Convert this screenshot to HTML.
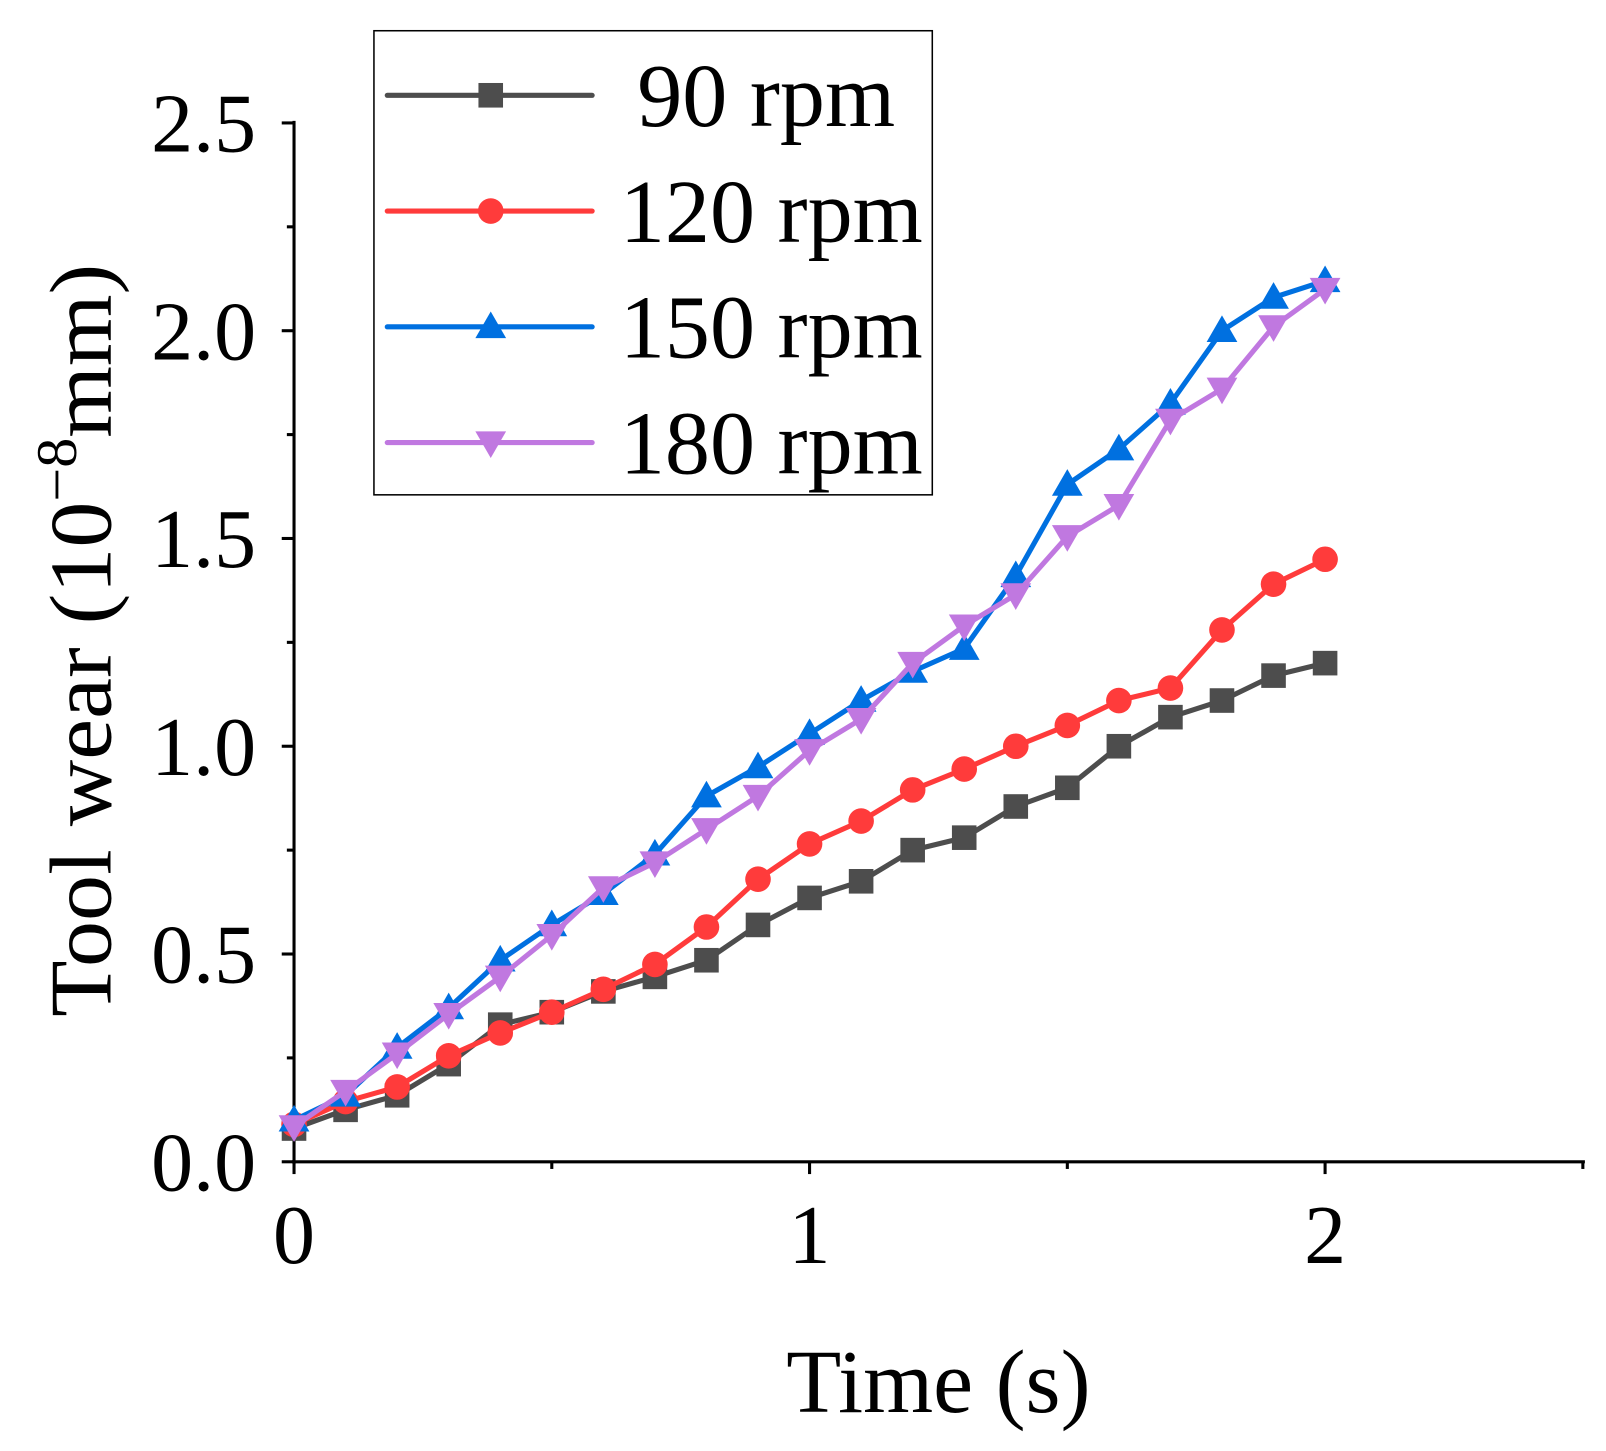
<!DOCTYPE html>
<html><head><meta charset="utf-8"><style>
body{margin:0;background:#fff}
svg{display:block;font-family:"Liberation Serif",serif}
</style></head><body>
<svg id="chart" width="1606" height="1451" viewBox="0 0 1606 1451" xmlns="http://www.w3.org/2000/svg">
<g transform="scale(1.0245)">
<g id="axes"></g>
<g id="series"></g>
<g id="legend">
<rect x="365" y="30" width="545" height="453" fill="#fff" stroke="#000" stroke-width="1.5"/>
</g>
<text transform="translate(108,625) rotate(-90)" text-anchor="middle" font-size="86" textLength="735" lengthAdjust="spacingAndGlyphs">Tool wear (10<tspan font-size="56" dy="-34">−8</tspan><tspan dy="34">mm)</tspan></text>
<text x="916" y="1378" text-anchor="middle" font-size="88" textLength="297" lengthAdjust="spacingAndGlyphs">Time (s)</text>
</g>
</svg>
<script>
const times=[0,0.1,0.2,0.3,0.4,0.5,0.6,0.7,0.8,0.9,1.0,1.1,1.2,1.3,1.4,1.5,1.6,1.7,1.8,1.9,2.0];
const s90=[0.08,0.125,0.16,0.235,0.33,0.36,0.41,0.445,0.485,0.57,0.635,0.675,0.75,0.78,0.855,0.9,1.0,1.07,1.11,1.17,1.2];
const s120=[0.09,0.145,0.18,0.255,0.31,0.36,0.415,0.475,0.565,0.68,0.765,0.82,0.895,0.945,1.0,1.05,1.11,1.14,1.28,1.39,1.45];
const s150=[0.10,0.16,0.275,0.37,0.485,0.57,0.645,0.74,0.88,0.95,1.03,1.11,1.18,1.235,1.41,1.63,1.715,1.825,2.0,2.08,2.12];
const s180=[0.085,0.17,0.26,0.355,0.445,0.545,0.66,0.72,0.8,0.88,0.99,1.065,1.2,1.29,1.365,1.505,1.58,1.785,1.86,2.01,2.1];
const seriesNames=["90 rpm","120 rpm","150 rpm","180 rpm"];
const xTicks=[0,1,2];
const yTicks=["0.0","0.5","1.0","1.5","2.0","2.5"];
const NS="http://www.w3.org/2000/svg";
const X=v=>287+v*503.2, Y=v=>1134-v*405.6;
function mk(t,a,p){const e=document.createElementNS(NS,t);for(const k in a)e.setAttribute(k,a[k]);p.appendChild(e);return e;}
const ax=document.getElementById('axes');
let l=mk('line',{x1:287,y1:118,x2:287,y2:1136,stroke:'#000','stroke-width':3},ax);


l=mk('line',{x1:285,y1:1134,x2:1547,y2:1134,stroke:'#000','stroke-width':3},ax);


for(let i=0;i<=10;i++){const v=i*0.25;const maj=i%2===0;
 const t=mk('line',{x1:287,x2:maj?275:280,y1:Y(v),y2:Y(v),stroke:'#000','stroke-width':3},ax);
 
 }
yTicks.forEach(s=>{const e=mk('text',{x:250,y:Y(+s)+28,'text-anchor':'end','font-size':82},ax);e.textContent=s;
 
 });
for(let i=0;i<=5;i++){const v=i*0.5;const maj=i%2===0;
 const t=mk('line',{x1:X(v),x2:X(v),y1:1134,y2:maj?1146:1141,stroke:'#000','stroke-width':3},ax);
 
 }
xTicks.forEach(v=>{const e=mk('text',{x:X(v),y:1233,'text-anchor':'middle','font-size':82},ax);e.textContent=v;
 
 });
const colors=['#4d4d4d','#ff3b3b','#0070e0','#c078e0'];
const kinds=['sq','ci','up','dn'];
function marker(kind,x,y,c,p){let e;
 if(kind==='sq')e=mk('rect',{x:x-12,y:y-12,width:24,height:24,fill:c},p);
 else if(kind==='ci')e=mk('circle',{cx:x,cy:y,r:12.5,fill:c},p);
 else if(kind==='up')e=mk('polygon',{points:`${x},${y-15} ${x+15},${y+11} ${x-15},${y+11}`,fill:c},p);
 else e=mk('polygon',{points:`${x},${y+15} ${x+15},${y-11} ${x-15},${y-11}`,fill:c},p);
 return e;}
const sg=document.getElementById('series');
[s90,s120,s150,s180].forEach((d,si)=>{
 const g=mk('g',{},sg);
 
 
 const pl=mk('polyline',{points:d.map((v,i)=>X(times[i])+','+Y(v)).join(' '),fill:'none',stroke:colors[si],'stroke-width':5,'stroke-linejoin':'round'},g);
 
 
 d.forEach((v,i)=>{const m=marker(kinds[si],X(times[i]),Y(v),colors[si],g);
  
  });
});
const lg=document.getElementById('legend');
seriesNames.forEach((n,i)=>{const y=93+i*113;
 const g=mk('g',{},lg);
 
 
 mk('line',{x1:378,x2:578,y1:y,y2:y,stroke:colors[i],'stroke-width':5,'stroke-linecap':'round'},g);
 marker(kinds[i],479,y,colors[i],g);
 const t=mk('text',{x:n.length===6?622:605,y:y+30,'font-size':88},g);t.textContent=n;
});
</script>
</body></html>
